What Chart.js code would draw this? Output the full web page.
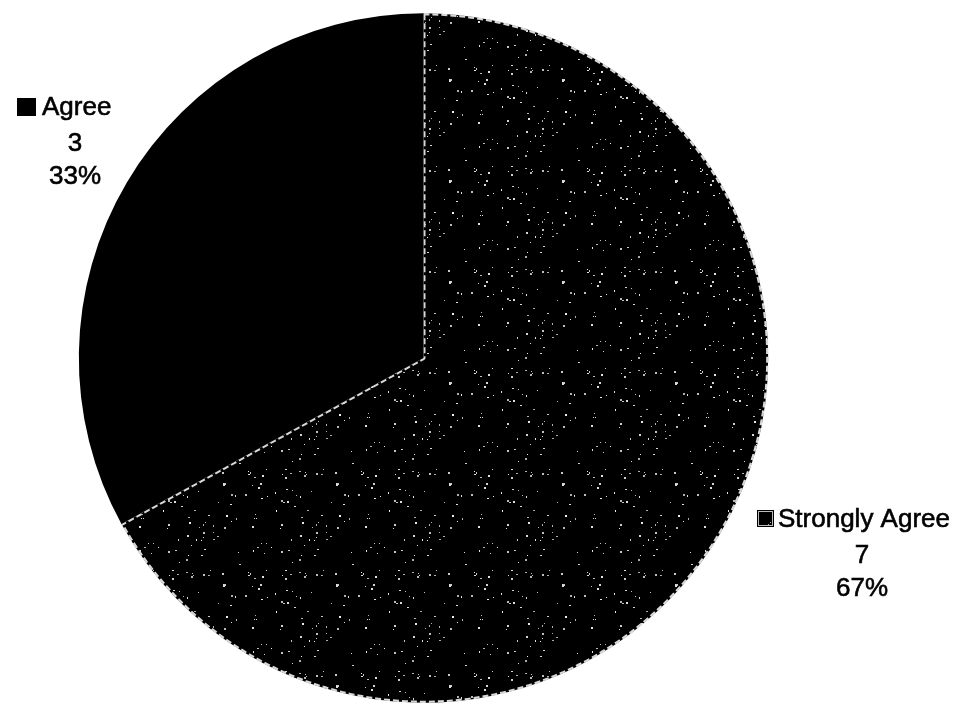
<!DOCTYPE html>
<html>
<head>
<meta charset="utf-8">
<script src="https://cdn.jsdelivr.net/npm/chart.js@4"></script>
<style>
  html, body { margin: 0; padding: 0; background: #fff; }
  #wrap { width: 961px; height: 703px; }
</style>
</head>
<body>
<div id="wrap"><canvas id="c" width="961" height="703"></canvas></div>
<script>
// data
const categories = ["Strongly Agree", "Agree"];
const counts = [7, 3];
const percents = [67, 33];

// speckled fill for "Strongly Agree" (fixed LCG so it looks the same each run)
function makeSpeckle() {
  const c = document.createElement("canvas");
  c.width = 113;
  c.height = 101;
  const g = c.getContext("2d");
  g.fillStyle = "#000";
  g.fillRect(0, 0, c.width, c.height);
  let s = 12345;
  function next() {
    s = (s * 1103515245 + 12345) % 2147483648;
    return s / 2147483648;
  }
  for (let i = 0; i < 85; i++) {
    const x = Math.floor(next() * c.width);
    const y = Math.floor(next() * c.height);
    const v = 170 + Math.floor(next() * 70);
    g.fillStyle = "rgb(" + v + "," + v + "," + v + ")";
    g.fillRect(x, y, next() < 0.5 ? 1 : 2, next() < 0.5 ? 1 : 2);
  }
  return g.createPattern(c, "repeat");
}

const speckle = makeSpeckle();

// outside labels, Excel style: key + name, count, percent
const labelPlugin = {
  id: "outsideLabels",
  afterDraw(chart) {
    const ctx = chart.ctx;
    const spots = [
      { i: 1, keyX: 17, textX: 42, midX: 75, y: 115 },
      { i: 0, keyX: 757, textX: 778, midX: 862, y: 527 }
    ];
    ctx.save();
    ctx.font = "26px 'Liberation Sans', Arial, sans-serif";
    ctx.textBaseline = "alphabetic";
    ctx.strokeStyle = "#000";
    ctx.lineWidth = 0.6;
    function put(t, x, y) {
      ctx.fillText(t, x, y);
      ctx.strokeText(t, x, y);
    }
    spots.forEach(function (s) {
      // legend key
      if (s.i === 1) {
        ctx.fillStyle = "#000";
        ctx.fillRect(s.keyX, s.y - 17, 19, 18);
      } else {
        ctx.fillStyle = "#000";
        ctx.fillRect(s.keyX, s.y - 17, 17, 17);
        ctx.fillStyle = speckle;
        ctx.fillRect(s.keyX + 2, s.y - 15, 13, 13);
        ctx.fillStyle = "#bbb";
        ctx.fillRect(s.keyX + 1, s.y - 16, 15, 1);
        ctx.fillRect(s.keyX + 1, s.y - 2, 15, 1);
        ctx.fillRect(s.keyX + 1, s.y - 16, 1, 15);
        ctx.fillRect(s.keyX + 15, s.y - 16, 1, 15);
      }
      ctx.fillStyle = "#000";
      ctx.textAlign = "left";
      put(categories[s.i], s.textX, s.y);
      ctx.textAlign = "center";
      put(String(counts[s.i]), s.midX, s.y + 36);
      put(percents[s.i] + "%", s.midX, s.y + 69);
    });
    ctx.restore();
  }
};

new Chart(document.getElementById("c"), {
  type: "pie",
  data: {
    labels: categories,
    datasets: [
      {
        data: percents,
        backgroundColor: [speckle, "#000"],
        borderColor: ["#d8d8d8", "#000"],
        borderWidth: [2, 0],
        borderAlign: "inner",
        borderDash: [6, 3]
      }
    ]
  },
  options: {
    responsive: false,
    animation: false,
    rotation: 0,
    layout: { padding: { top: 13, bottom: 0, left: 0, right: 114 } },
    plugins: {
      legend: { display: false },
      tooltip: { enabled: false }
    }
  },
  plugins: [labelPlugin]
});
</script>
</body>
</html>
